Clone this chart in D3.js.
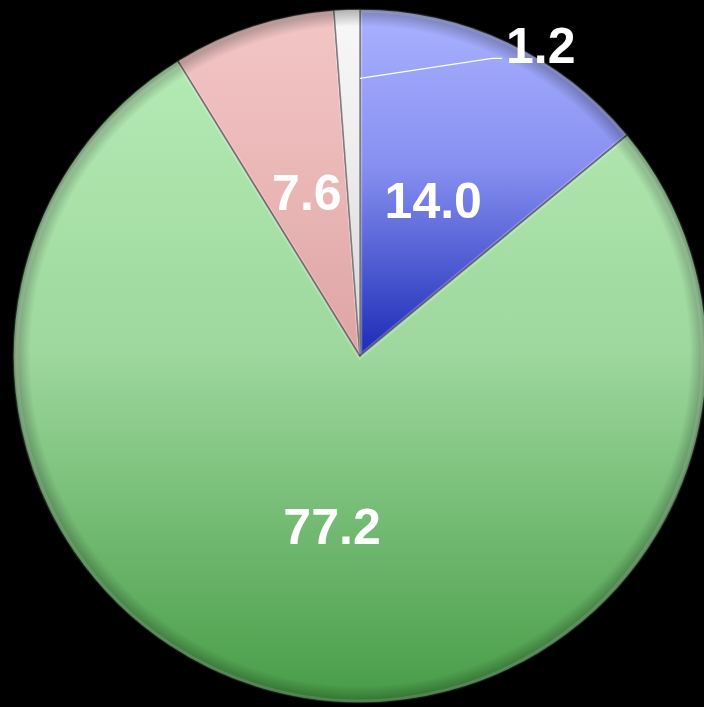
<!DOCTYPE html>
<html>
<head>
<meta charset="utf-8">
<script src="https://cdn.jsdelivr.net/npm/d3@7"></script>
<style>
  html, body { margin: 0; padding: 0; background: #000; }
  svg { display: block; }
  .label { font-family: "Liberation Sans", Arial, sans-serif; font-weight: bold; fill: #fff; }
</style>
</head>
<body>
<div id="chart"></div>
<script>
// slice data, clockwise from 12 o'clock
var categories = ["a", "b", "c", "d"];
var values = [14.0, 77.2, 7.6, 1.2];
var labels = ["14.0", "77.2", "7.6", "1.2"];
// gradient stops (light top -> mid -> dark bottom)
var colorsTop = ["#aab2ff", "#b4eab4", "#f3c6c6", "#f8f8f8"];
var colorsMid = ["#8790f0", "#9ed89e", "#ebb8b8", "#ececec"];
var colorsBottom = ["#1b2bb5", "#479c47", "#dea4a4", "#d4d4d4"];

var width = 704, height = 707;
var cx = 360, cy = 356, radius = 347;
var labelRadius = 172;

var data = categories.map(function(c, i) {
  return {name: c, value: values[i], label: labels[i],
          top: colorsTop[i], mid: colorsMid[i], bottom: colorsBottom[i]};
});

var svg = d3.select("#chart")
  .append("svg")
  .attr("width", width)
  .attr("height", height)
  .style("background", "#000");

var defs = svg.append("defs");

var pie = d3.pie()
  .sort(null)
  .value(function(d) { return d.value; });

var arcs = pie(data);

var arc = d3.arc().innerRadius(0).outerRadius(radius);
var labelArc = d3.arc().innerRadius(labelRadius).outerRadius(labelRadius);

// per slice vertical gradient over the slice's own extent
arcs.forEach(function(a, i) {
  var ys = [0];
  var steps = 40;
  for (let k = 0; k <= steps; k++) {
    var t = a.startAngle + (a.endAngle - a.startAngle) * k / steps;
    ys.push(-Math.cos(t) * radius);
  }
  var g = defs.append("linearGradient")
    .attr("id", "grad" + i)
    .attr("gradientUnits", "userSpaceOnUse")
    .attr("x1", 0).attr("x2", 0)
    .attr("y1", d3.min(ys)).attr("y2", d3.max(ys));
  g.append("stop").attr("offset", "0%").attr("stop-color", a.data.top);
  g.append("stop").attr("offset", "45%").attr("stop-color", a.data.mid);
  g.append("stop").attr("offset", "100%").attr("stop-color", a.data.bottom);
});

// rim shading
var rim = defs.append("radialGradient").attr("id", "rim");
rim.append("stop").attr("offset", "0.95").attr("stop-color", "#000").attr("stop-opacity", 0);
rim.append("stop").attr("offset", "1").attr("stop-color", "#000").attr("stop-opacity", 0.3);

var g = svg.append("g")
  .attr("transform", "translate(" + cx + "," + cy + ")");

// draw slices
g.selectAll(".slice")
  .data(arcs)
  .enter()
  .append("path")
  .attr("class", "slice")
  .attr("d", arc)
  .attr("fill", function(d, i) { return "url(#grad" + i + ")"; })
  .attr("stroke", "rgba(20,20,20,0.8)")
  .attr("stroke-width", 1.5)
  .attr("stroke-linejoin", "round");

// light bevel inside each edge
var innerArc = d3.arc().innerRadius(0).outerRadius(radius - 4);
g.selectAll(".bevel")
  .data(arcs)
  .enter()
  .append("path")
  .attr("class", "bevel")
  .attr("d", innerArc)
  .attr("fill", "none")
  .attr("stroke", "rgba(255,255,255,0.22)")
  .attr("stroke-width", 3)
  .attr("transform", function(d) {
    var m = (d.startAngle + d.endAngle) / 2;
    return "translate(" + (Math.sin(m) * 2) + "," + (-Math.cos(m) * 2) + ")";
  });

g.append("circle")
  .attr("r", radius)
  .attr("fill", "url(#rim)")
  .attr("pointer-events", "none");

// labels inside the slices
g.selectAll(".label")
  .data(arcs.filter(function(d) { return d.data.value > 5; }))
  .enter()
  .append("text")
  .attr("class", "label")
  .attr("text-anchor", "middle")
  .attr("dy", "0.36em")
  .style("font-size", "50px")
  .attr("transform", function(d) { return "translate(" + labelArc.centroid(d) + ")"; })
  .text(function(d) { return d.data.label; });

// small slice gets a leader line and an outside label
var small = arcs.filter(function(d) { return d.data.value <= 5; });
small.forEach(function(d) {
  var r0 = radius * 0.8;
  var p0 = [Math.sin(d.endAngle) * r0, -Math.cos(d.endAngle) * r0];
  var p1 = [p0[0] + 132, p0[1] - 20];
  g.append("polyline")
    .attr("points", [p0, p1, [p1[0] + 10, p1[1]]].map(function(p) { return p.join(","); }).join(" "))
    .attr("fill", "none")
    .attr("stroke", "#fff")
    .attr("stroke-width", 1.2);
  g.append("text")
    .attr("class", "label")
    .attr("x", p1[0] + 14)
    .attr("y", p1[1])
    .attr("dy", "0.1em")
    .style("font-size", "50px")
    .text(d.data.label);
});
</script>
</body>
</html>
